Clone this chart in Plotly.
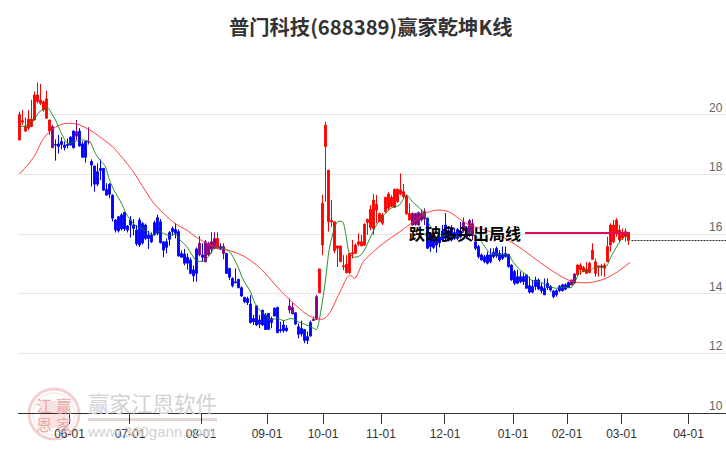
import plotly.graph_objects as go

title_text = "普门科技(688389)赢家乾坤K线"
signal_text = "跌破多头出局线"

opens = [19.15,19.75,19.45,19.55,19.6,19.82,20.44,20.38,20.16,19.88,19.45,19.6,19.0,19.02,19.1,18.98,19.0,19.25,19.45,19.43,
19.45,19.02,19.1,19.1,18.43,18.28,18.09,18.2,18.2,17.5,17.67,17.3,16.47,16.58,16.64,16.72,16.27,16.47,16.3,16.13,
16.47,16.36,16.3,15.97,15.97,16.38,16.55,16.41,15.74,15.74,16.05,16.19,16.15,16.08,15.35,15.33,15.22,15.13,14.8,15.5,
15.69,15.3,15.74,15.69,15.74,15.85,15.52,15.58,15.58,15.35,14.85,14.51,14.4,14.48,14.2,13.88,13.84,13.65,13.17,13.59,
13.12,13.45,13.29,13.34,13.17,13.51,13.54,12.8,12.95,12.85,13.59,13.54,13.36,12.89,12.84,12.8,12.56,13.03,13.14,13.9,
14.03,15.63,18.93,16.41,16.41,15.44,15.52,15.07,14.9,14.7,14.7,15.33,15.35,15.66,15.6,15.63,16.38,16.22,16.19,16.8,
16.41,16.36,16.75,16.86,16.92,16.9,17.08,17.34,17.25,16.67,16.47,16.69,16.69,16.72,16.69,16.75,16.53,16.02,15.91,15.8,
15.9,16.1,16.3,16.1,16.2,16.05,16.15,16.1,16.4,16.2,16.45,16.35,15.74,15.58,15.3,15.24,15.3,15.3,15.39,15.52,
15.35,15.32,15.35,15.32,14.96,14.74,14.57,14.57,14.57,14.63,14.27,14.24,14.46,14.46,14.24,14.18,14.35,14.24,14.09,14.1,
14.25,14.3,14.3,14.38,14.46,14.66,14.63,14.8,14.74,14.68,14.71,15.15,14.68,14.88,14.88,14.85,15.07,15.63,15.74,16.02,
15.8,15.86,15.91,15.78]
closes = [20.0,19.8,19.6,19.85,19.85,20.66,20.66,20.49,20.43,20.53,19.82,18.89,18.98,18.93,19.0,18.9,18.97,18.98,18.89,19.28,
18.95,18.57,18.57,19.08,18.31,17.67,17.67,18.13,17.47,17.3,17.33,16.53,16.13,16.11,16.17,16.17,16.13,16.3,16.19,15.67,
15.63,15.7,15.85,15.85,15.74,15.97,16.02,15.71,15.46,15.55,15.82,16.08,16.02,15.26,15.22,15.02,15.02,14.68,14.6,14.68,
15.3,15.22,15.07,15.3,15.49,15.52,15.85,15.49,15.35,14.68,14.55,14.26,14.37,14.2,13.92,13.73,13.7,13.03,13.06,12.95,
12.98,12.95,12.8,12.8,13.03,13.25,12.69,12.76,12.76,12.76,13.45,13.32,12.98,12.64,12.65,12.43,12.43,12.58,13.1,13.14,
14.83,17.03,19.65,18.14,16.45,16.41,15.6,15.6,14.93,14.99,15.35,15.37,15.63,15.74,15.74,16.33,16.49,16.83,17.14,17.0,
16.69,16.64,17.23,17.34,17.23,17.5,17.5,17.48,17.42,17.27,16.69,16.3,16.32,16.3,16.47,16.5,15.52,15.58,15.55,15.63,
15.7,15.8,15.85,15.8,15.8,15.85,15.85,15.9,16.1,15.9,15.95,15.95,15.52,15.24,15.13,15.07,15.02,15.07,15.24,15.27,
15.13,15.18,15.24,14.91,14.46,14.35,14.35,14.4,14.4,14.18,14.05,14.05,14.24,14.16,14.09,13.96,14.2,14.12,13.9,13.96,
14.1,14.1,14.15,14.21,14.29,14.35,14.96,14.96,14.88,14.82,15.02,15.46,15.07,14.93,14.93,14.96,15.58,16.3,16.3,16.47,
16.13,16.02,16.08,16.02]
highs = [20.1,20.16,19.9,20.15,20.5,20.77,21.08,21.03,20.47,20.81,19.84,19.65,19.17,19.32,19.24,19.1,19.2,19.27,19.47,19.82,
19.55,19.1,19.1,19.58,18.5,18.28,18.37,18.5,18.2,17.7,17.7,17.33,16.5,16.6,16.7,16.75,16.3,16.6,16.5,16.3,
16.55,16.4,16.35,16.1,16.05,16.45,16.65,16.5,15.75,15.85,16.1,16.25,16.36,16.15,15.45,15.5,15.35,15.2,14.95,15.55,
15.93,15.69,15.8,15.74,16.06,16.06,16.06,15.69,15.69,15.35,14.85,14.55,14.85,14.5,14.25,13.88,13.9,13.95,13.29,13.62,
13.29,13.45,13.35,13.34,13.23,13.54,13.56,13.06,13.1,12.95,13.84,13.7,13.36,13.0,13.1,12.8,12.73,13.1,13.23,13.96,
14.83,17.31,19.76,18.14,17.14,16.41,15.6,15.6,15.29,15.29,15.35,15.8,15.68,16.02,15.97,16.35,16.52,16.97,17.34,17.31,
16.7,16.7,17.25,17.4,17.3,17.52,17.52,18.03,17.68,17.31,17.03,16.72,16.7,16.75,16.82,16.86,16.55,16.05,15.95,15.85,
16.1,16.3,16.7,16.25,16.3,16.2,16.2,16.4,16.55,16.25,16.5,16.5,15.8,15.63,15.35,15.3,15.41,15.52,15.52,15.58,
15.46,15.58,15.58,15.32,14.98,14.8,14.8,14.74,14.68,14.63,14.57,14.46,14.57,14.51,14.35,14.51,14.51,14.29,14.12,14.15,
14.29,14.33,14.35,14.4,14.46,14.68,14.98,15.02,14.93,15.07,15.07,15.69,15.18,14.93,15.0,15.02,15.91,16.36,16.47,16.53,
16.3,16.19,16.19,16.02]
lows = [19.15,19.65,19.42,19.48,19.58,19.82,20.38,20.32,20.1,19.88,19.32,18.89,18.46,18.7,18.84,18.8,18.87,18.98,18.87,19.15,
18.93,18.57,18.39,19.0,17.59,17.42,17.6,17.8,17.44,17.3,17.2,16.42,16.05,16.05,16.12,16.1,16.05,15.88,15.95,15.6,
15.57,15.65,15.8,15.5,15.7,15.95,15.95,15.68,15.22,15.35,15.6,15.95,15.85,15.25,15.2,14.95,14.8,14.65,14.4,14.4,
15.25,15.07,15.05,15.27,15.35,15.49,15.49,15.46,15.15,14.66,14.46,14.21,14.35,14.18,13.9,13.68,13.62,13.0,12.95,12.92,
12.84,12.92,12.8,12.78,12.84,13.25,12.69,12.69,12.69,12.72,13.34,13.32,12.95,12.5,12.56,12.34,12.31,12.56,13.1,13.12,
14.03,15.29,17.08,16.08,16.24,15.35,14.9,15.07,14.79,14.68,14.66,15.18,15.35,15.6,15.6,15.6,15.97,16.13,15.97,16.36,
16.4,16.3,16.7,16.8,16.9,16.88,17.05,17.3,17.2,16.65,16.45,16.28,16.28,16.28,16.41,16.3,15.5,15.4,15.5,15.37,
15.55,15.75,15.75,15.75,15.75,15.8,15.8,15.85,16.05,15.85,15.9,15.8,15.46,15.18,15.1,15.02,14.98,15.02,15.18,15.2,
15.07,15.13,15.21,14.87,14.43,14.29,14.32,14.35,14.29,14.18,14.01,14.01,14.12,14.12,14.01,13.96,14.12,14.07,13.85,13.9,
14.05,14.07,14.12,14.2,14.29,14.33,14.62,14.63,14.72,14.68,14.68,15.13,14.57,14.57,14.6,14.57,15.07,15.41,15.69,15.91,
15.74,15.8,15.74,15.63]
purple_bars = [11,19,23,60,62,63,64,65,68,90,91,98,99,131,132,133,134,135,148,150,151,184,185]

green_x = [0,2,4,5,6.5,8,9.5,10,12,14,16,18.5,20,23.4,25,26.7,28.4,30,31.6,34,35.5,37,39,41.4,43.5,44.7,46.4,48,50.3,52,53.5,55.7,57.5,59,61.3,63,65,68,70,72.4,74.6,76.8,78.5,80,82,83.5,86,88,90.7,93,95,98,99,100.5,102,103.3,105,106,107.7,108.8,110,111.7,113.8,115.5,117,119,121,123.8,126.6,129,131,134,135.5,138,141,145,149,150,152,153,155.5,157,160,163,164.5,166.8,169,171,173.5,175.7,179,181,184,185,186.6,188.5,190,192,193.5,195.5,197.2,199.4,201,203]
green_y = [19.6,19.62,19.71,19.85,20.08,20.18,20.23,20.16,19.82,19.37,19.04,19.1,19.15,19.1,18.76,18.49,18.3,17.81,17.45,17.03,16.69,16.47,16.25,16.16,16.02,15.97,16.1,16.02,15.94,16.0,15.8,15.58,15.3,15.1,15.09,15.24,15.52,15.52,15.41,15.0,14.46,14.1,13.68,13.45,13.29,13.12,13.17,13.1,13.17,13.06,12.98,12.84,12.8,13.45,14.46,15.52,16.19,16.41,16.41,15.97,15.35,15.22,15.3,15.57,15.9,16.3,16.58,16.86,16.97,17.31,17.08,16.8,16.53,16.1,15.95,15.92,15.98,16.05,15.9,15.86,15.52,15.35,15.32,15.3,15.07,14.8,14.63,14.43,14.4,14.27,14.18,14.21,14.21,14.37,14.68,14.76,14.74,14.91,14.91,14.91,15.24,15.63,15.86,16.02]
red_x = [0,4.7,8,11.3,14.6,17.4,20.1,23.4,26.7,31,34.4,37.7,41,44.4,48,52,55.7,59,63.5,68,71.2,75,79,82.4,85.8,89,92.6,96,99,101.3,103.3,106.6,110,111.8,114.6,118,121.3,126.8,131.3,135.7,139,143,148,150,156.8,161.8,168,172.4,178,182.4,185.7,190,194.6,199,203.5]
red_y = [18.01,18.57,19.2,19.54,19.69,19.71,19.65,19.49,19.26,18.93,18.54,18.12,17.6,17.08,16.69,16.34,16.13,15.89,15.63,15.49,15.41,15.24,14.96,14.63,14.23,13.9,13.56,13.29,13.17,13.15,13.34,14.01,14.62,14.52,15.07,15.41,15.69,16.08,16.41,16.71,16.8,16.75,16.41,16.3,16.08,15.86,15.46,15.13,14.74,14.48,14.38,14.37,14.48,14.71,15.05]

signal_x = [168.5, 203.5]
signal_y = [16.03, 16.03]
last_x = [204, 235.5]
last_y = [15.78, 15.78]

tick_pos = [16.67,36.83,60.5,82.5,101.17,120.5,141.83,164.5,182.5,200.67,223]
tick_labels = ["06-01","07-01","08-01","09-01","10-01","11-01","12-01","01-01","02-01","03-01","04-01"]
price_ticks = [10,12,14,16,18,20,22]
price_labels = ["10","12","14","16","18","20"]

W, H = 726, 450
L, R, T, B = 18, 726, 55, 413
fx = lambda px: (px - L) / (R - L)
fy = lambda py: (B - py) / (B - T)

fig = go.Figure()
n = len(opens)
groups = {
    "#ff0000": [i for i in range(n) if i not in purple_bars and closes[i] >= opens[i]],
    "#0000ff": [i for i in range(n) if i not in purple_bars and closes[i] < opens[i]],
    "#800080": purple_bars,
}
for color, idx in groups.items():
    style = dict(line=dict(color=color, width=1), fillcolor=color)
    fig.add_trace(go.Candlestick(
        x=idx,
        open=[opens[i] for i in idx], high=[highs[i] for i in idx],
        low=[lows[i] for i in idx], close=[closes[i] for i in idx],
        increasing=style, decreasing=style, whiskerwidth=0, showlegend=False,
    ))
fig.add_trace(go.Scatter(x=red_x, y=red_y, mode="lines", showlegend=False,
                         line=dict(color="rgba(255,40,40,0.9)", width=1, shape="spline", smoothing=0.8)))
fig.add_trace(go.Scatter(x=green_x, y=green_y, mode="lines", showlegend=False,
                         line=dict(color="rgba(20,130,20,0.9)", width=1, shape="spline", smoothing=0.8)))
fig.add_trace(go.Scatter(x=signal_x, y=signal_y, mode="lines", showlegend=False,
                         line=dict(color="#dc0a64", width=2)))
fig.add_trace(go.Scatter(x=last_x, y=last_y, mode="lines", showlegend=False,
                         line=dict(color="#222222", width=1, dash="2px,1px")))

ann = [
    dict(x=fx(371), y=fy(26), xref="paper", yref="paper", xanchor="center", yanchor="middle", showarrow=False, text=f"<b>{title_text}</b>",
         font=dict(family="Noto Sans CJK SC", size=20.3, color="#333333")),
    dict(x=167.8, y=16.03, xref="x", yref="y", xanchor="right", yanchor="middle", showarrow=False, text=f"<b>{signal_text}</b>",
         font=dict(family="Noto Sans CJK SC", size=16, color="#000000")),
]
for v, t in zip(price_ticks, price_labels):
    ann.append(dict(x=fx(724), y=v, xref="paper", yref="y", xanchor="right", yanchor="bottom", yshift=-1, showarrow=False, text=t,
                    font=dict(family="Liberation Sans", size=12, color="#666666"), borderpad=0))
# watermark
wm = "#d2d2d2"
ann.append(dict(x=fx(152.5), y=fy(402), xref="paper", yref="paper", xanchor="center", yanchor="middle", showarrow=False, text="赢家江恩软件",
                font=dict(family="Noto Sans CJK SC", size=21.5, color=wm)))
ann.append(dict(x=fx(151), y=fy(431), xref="paper", yref="paper", xanchor="center", yanchor="middle", showarrow=False, text="www.360gann.com",
                font=dict(family="Liberation Sans", size=15, color=wm)))
for ch, px, py in [("江", 44, 405), ("赢", 64, 405), ("恩", 44, 424), ("家", 64, 424)]:
    ann.append(dict(x=fx(px), y=fy(py), xref="paper", yref="paper", xanchor="center", yanchor="middle", showarrow=False, text=ch,
                    font=dict(family="Noto Sans CJK SC", size=16, color="#e9a9a9")))

shapes = [
    dict(type="rect", xref="paper", yref="paper", x0=fx(40), x1=fx(68), y0=fy(428), y1=fy(401), fillcolor="#f8e2e2", line=dict(width=0), layer="below"),
    dict(type="circle", xref="paper", yref="paper", x0=fx(29), x1=fx(79), y0=fy(439), y1=fy(389), line=dict(color="#f3d2d2", width=3), layer="below"),
    dict(type="circle", xref="paper", yref="paper", x0=fx(33), x1=fx(75), y0=fy(435), y1=fy(393), line=dict(color="#f6dede", width=1), layer="below"),
    dict(type="line", xref="paper", yref="paper", x0=fx(88), x1=fx(217), y0=fy(419.5), y1=fy(419.5), line=dict(color="#e6d6d6", width=3), layer="below"),
]

fig.update_layout(
    width=W, height=H, autosize=False,
    margin=dict(l=L, r=W-R, t=T, b=H-B),
    paper_bgcolor="white", plot_bgcolor="white",
    boxmode="overlay", boxgap=0.15, showlegend=False,
    annotations=ann, shapes=shapes,
    xaxis=dict(range=[-0.5, 235.5], rangeslider=dict(visible=False), tickmode="array", tickvals=tick_pos, ticktext=tick_labels,
               showgrid=False, zeroline=False, showline=True, linecolor="#333333", linewidth=1, ticks="outside", ticklen=10, tickcolor="#333333",
               tickfont=dict(family="Liberation Sans", size=12, color="#333333")),
    yaxis=dict(range=[10, 22], tickvals=price_ticks, showticklabels=False, showgrid=True, gridcolor="#e6e6e6", gridwidth=1, zeroline=False, showline=False, ticks=""),
)
assert len(opens) == len(closes) == len(highs) == len(lows), (len(opens), len(closes), len(highs), len(lows))
assert len(green_x) == len(green_y) and len(red_x) == len(red_y), (len(green_x), len(green_y), len(red_x), len(red_y))
fig.write_html("out.html", config=dict(displayModeBar=False),
               post_script="document.body.style.margin='0';document.documentElement.style.overflow='hidden';")
